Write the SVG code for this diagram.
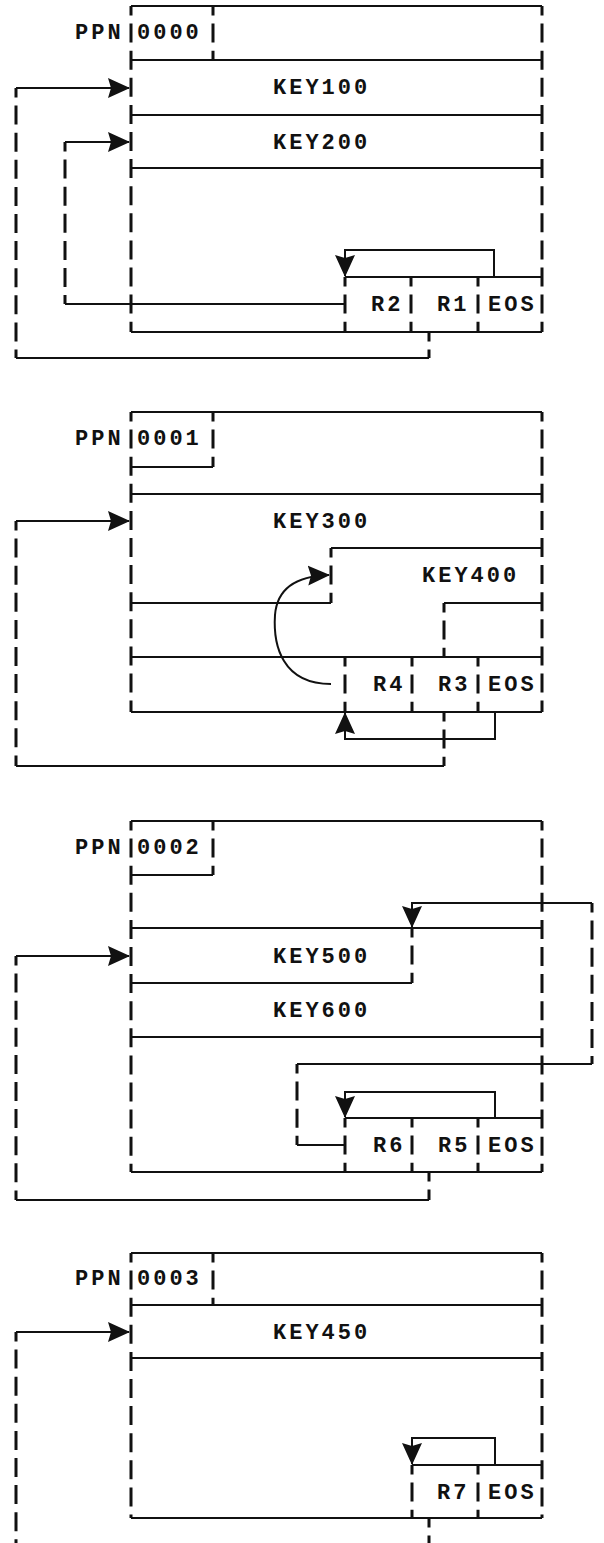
<svg xmlns="http://www.w3.org/2000/svg" width="604" height="1543" viewBox="0 0 604 1543">
<style>
.h{fill:none;stroke:#111;stroke-width:2}
.v{fill:none;stroke:#111;stroke-width:3;stroke-dasharray:19 8.1;stroke-dashoffset:9.5}
.a{fill:none;stroke:#111;stroke-width:2;marker-end:url(#ah)}
text{font-family:"Liberation Mono","DejaVu Sans Mono",monospace;font-size:22px;font-weight:bold;fill:#111;letter-spacing:3px}
</style>
<defs>
<marker id="ah" markerUnits="userSpaceOnUse" viewBox="0 0 22 22" markerWidth="22" markerHeight="22" refX="21" refY="11" orient="auto">
<path d="M0,1 L22,11 L0,21 L3,11 z" fill="#111"/>
</marker>
</defs>
<rect width="604" height="1543" fill="#fff"/>

<g id="page0">
<path class="h" d="M131,6H542M131,60H542M131,115H542M131,168H542M345,277H542M131,332H542"/>
<path class="v" d="M131,6V332M542,6V332M213,6V60M345,277V332M411,277V332M478,277V332"/>
<text x="75" y="39">PPN</text><text x="137" y="39">0000</text>
<text x="273" y="94">KEY100</text><text x="273" y="149">KEY200</text>
<text x="371" y="311">R2</text><text x="437" y="311">R1</text><text x="488" y="311">EOS</text>
</g>

<g id="page1">
<path class="h" d="M131,412H542M131,467H213M131,494H542M331,548H542M131,603H331M444,603H542M131,657H542M131,712H542"/>
<path class="v" d="M131,412V712M542,412V712M213,412V467M331,548V603M444,603V657M345,657V712M412,657V712M478,657V712"/>
<text x="75" y="445">PPN</text><text x="137" y="445">0001</text>
<text x="273" y="528">KEY300</text><text x="422" y="582">KEY400</text>
<text x="373" y="691">R4</text><text x="438" y="691">R3</text><text x="488" y="691">EOS</text>
</g>

<g id="page2">
<path class="h" d="M131,821H542M131,875H213M131,928H542M131,983H412M131,1037H542M345,1118H542M131,1172H542"/>
<path class="v" d="M131,821V1172M542,821V1172M213,821V875M412,928V983M345,1118V1172M412,1118V1172M478,1118V1172"/>
<text x="75" y="854">PPN</text><text x="137" y="854">0002</text>
<text x="273" y="963">KEY500</text><text x="273" y="1017">KEY600</text>
<text x="373" y="1152">R6</text><text x="438" y="1152">R5</text><text x="488" y="1152">EOS</text>
</g>

<g id="page3">
<path class="h" d="M131,1253H542M131,1305H542M131,1358H542M412,1465H542M131,1518H542"/>
<path class="v" d="M131,1253V1518M542,1253V1518M213,1253V1305M412,1465V1518M478,1465V1518"/>
<text x="75" y="1285">PPN</text><text x="137" y="1285">0003</text>
<text x="273" y="1339">KEY450</text>
<text x="437" y="1499">R7</text><text x="488" y="1499">EOS</text>
</g>

<g id="connectors">
<path class="a" d="M16,88H129"/>
<path class="a" d="M65,142H129"/>
<path class="h" d="M65,304H345M16,358H429"/>
<path class="v" d="M16,88V358M65,142V304M429,332V358"/>
<path class="a" d="M494,277V250H345V276"/>
<path class="a" d="M16,521H129"/>
<path class="a" d="M331,684C282,684 273,645 275,615C277,590 295,576 329,575"/>
<path class="a" d="M495,712V739H345V713"/>
<path class="h" d="M16,766H444"/>
<path class="v" d="M444,712V766M16,521V766"/>
<path class="a" d="M16,956H129"/>
<path class="h" d="M297,1064H592M297,1145H345M16,1200H429"/>
<path class="a" d="M592,903H412V927"/>
<path class="v" d="M592,903V1064M297,1064V1145M429,1172V1200M16,956V1200"/>
<path class="a" d="M495,1118V1092H345V1117"/>
<path class="a" d="M16,1332H129"/>
<path class="a" d="M495,1465V1438H412V1464"/>
<path class="v" d="M429,1518V1543M16,1332V1543"/>
</g>
</svg>
